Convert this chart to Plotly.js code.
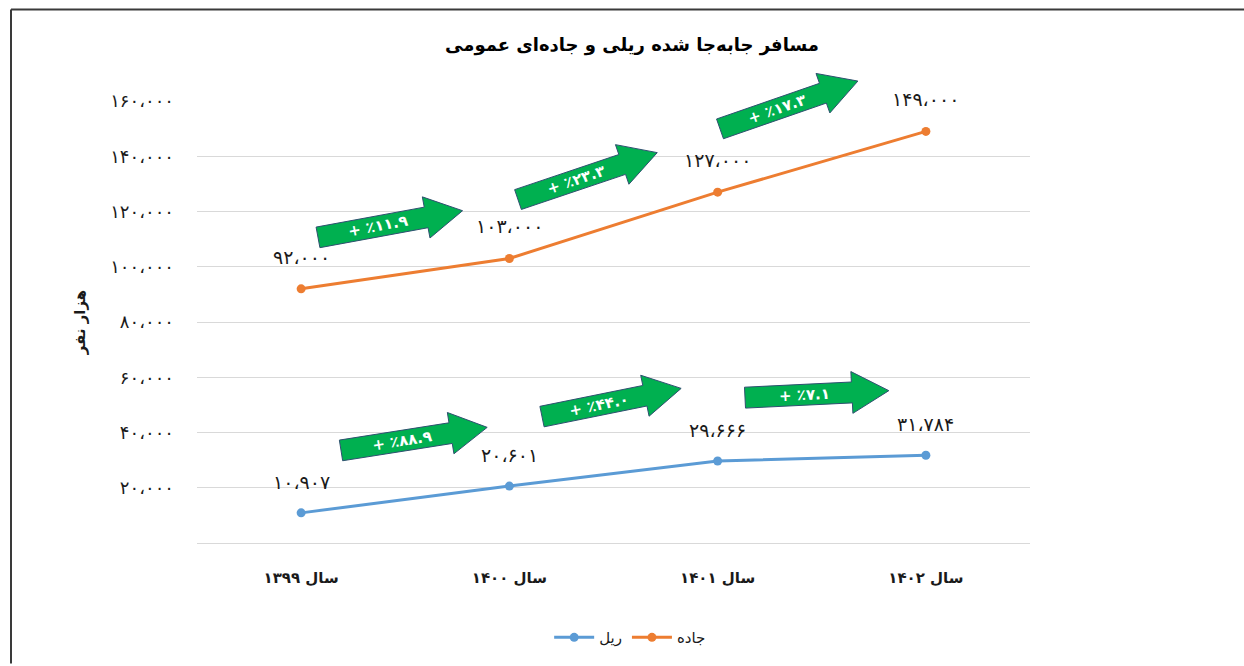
<!DOCTYPE html>
<html>
<head>
<meta charset="utf-8">
<script src="https://cdn.plot.ly/plotly-3.0.1.min.js"></script>
<style>
  html, body { margin: 0; padding: 0; background: #ffffff; }
  #chart { width: 1244px; height: 666px; }
</style>
</head>
<body>
<div id="chart"></div>
<script>
// ---- data ----
const categories = ['سال ۱۳۹۹', 'سال ۱۴۰۰', 'سال ۱۴۰۱', 'سال ۱۴۰۲'];
const railValues = [10907, 20601, 29666, 31784];
const roadValues = [92000, 103000, 127000, 149000];
const railLabels = ['۱۰،۹۰۷', '۲۰،۶۰۱', '۲۹،۶۶۶', '۳۱،۷۸۴'];
const roadLabels = ['۹۲،۰۰۰', '۱۰۳،۰۰۰', '۱۲۷،۰۰۰', '۱۴۹،۰۰۰'];
const roadGrowth = ['+ ٪۱۱.۹', '+ ٪۲۳.۳', '+ ٪۱۷.۳'];
const railGrowth = ['+ ٪۸۸.۹', '+ ٪۴۴.۰', '+ ٪۷.۱'];
const yTickVals = [20000, 40000, 60000, 80000, 100000, 120000, 140000, 160000];
const yTickText = ['۲۰،۰۰۰', '۴۰،۰۰۰', '۶۰،۰۰۰', '۸۰،۰۰۰', '۱۰۰،۰۰۰', '۱۲۰،۰۰۰', '۱۴۰،۰۰۰', '۱۶۰،۰۰۰'];
const seriesNames = ['ریل', 'جاده'];
const titleText = 'مسافر جابه‌جا شده ریلی و جاده‌ای عمومی';
const yTitleText = 'هزار نفر';

// ---- style / geometry ----
const W = 1244, H = 666;
const M = { l: 197, r: 214, t: 101, b: 121 };
const PW = W - M.l - M.r, PH = H - M.t - M.b;
const FONT = '"DejaVu Sans", "Noto Sans", sans-serif';
const BLUE = '#5B9BD5', ORANGE = '#ED7D31', GREEN = '#00B050';
const px2x = p => (p - M.l) / PW;
const py2y = p => (H - M.b - p) / PH;

// arrow placement (pixel start point, angle in degrees, length)
const roadArrowGeom = [[318, 238, 10.5, 147], [518, 200, 18.7, 147], [720, 129, 19.2, 146]];
const railArrowGeom = [[341, 452, 9.0, 148], [542, 418, 11.5, 142], [745, 399, 2.8, 144]];

const shapes = [];
const annotations = [];

function addArrow(g, label) {
  const [sx, sy, deg, L] = g;
  const t = deg * Math.PI / 180;
  const h1 = 10.5, h2 = 21, HL = 37;
  const loc = [[0, -h1], [L - HL, -h1], [L - HL, -h2], [L, 0], [L - HL, h2], [L - HL, h1], [0, h1]];
  const pts = loc.map(([u, v]) => {
    const X = sx + u * Math.cos(t) - v * Math.sin(t);
    const Y = sy - (u * Math.sin(t) + v * Math.cos(t));
    return [px2x(X), py2y(Y)];
  });
  const path = 'M ' + pts.map(p => p[0].toFixed(5) + ',' + p[1].toFixed(5)).join(' L ') + ' Z';
  shapes.push({ type: 'path', xref: 'paper', yref: 'paper', path: path,
    fillcolor: GREEN, line: { color: '#2F5070', width: 1 }, layer: 'above' });
  const uc = (L - HL) / 2 + 6;
  const cx = sx + uc * Math.cos(t), cy = sy - uc * Math.sin(t);
  annotations.push({ xref: 'paper', yref: 'paper', x: px2x(cx), y: py2y(cy),
    text: '<b>' + label + '</b>', showarrow: false, textangle: -deg,
    font: { family: FONT, size: 15, color: '#ffffff' }, xanchor: 'center', yanchor: 'middle' });
}
roadGrowth.forEach((g, i) => addArrow(roadArrowGeom[i], g));
railGrowth.forEach((g, i) => addArrow(railArrowGeom[i], g));

// data labels
categories.forEach((c, i) => {
  annotations.push({ x: c, y: roadValues[i], xref: 'x', yref: 'y', text: roadLabels[i],
    showarrow: false, yshift: 32, font: { family: FONT, size: 19, color: '#1a1a1a' } });
  annotations.push({ x: c, y: railValues[i], xref: 'x', yref: 'y', text: railLabels[i],
    showarrow: false, yshift: 31, font: { family: FONT, size: 19, color: '#1a1a1a' } });
});

// frame (top & left)
shapes.push({ type: 'line', xref: 'paper', yref: 'paper', x0: px2x(11), x1: px2x(1244), y0: py2y(9), y1: py2y(9),
  line: { color: '#3a3a3a', width: 2 } });
shapes.push({ type: 'line', xref: 'paper', yref: 'paper', x0: px2x(11), x1: px2x(11), y0: py2y(9), y1: py2y(666),
  line: { color: '#3a3a3a', width: 2 } });

const traces = [
  { x: categories, y: railValues, name: seriesNames[0], type: 'scatter', mode: 'lines+markers',
    line: { color: BLUE, width: 3 }, marker: { color: BLUE, size: 9 }, hoverinfo: 'skip' },
  { x: categories, y: roadValues, name: seriesNames[1], type: 'scatter', mode: 'lines+markers',
    line: { color: ORANGE, width: 3 }, marker: { color: ORANGE, size: 9 }, hoverinfo: 'skip' }
];

const layout = {
  width: W, height: H,
  margin: M,
  paper_bgcolor: '#ffffff', plot_bgcolor: '#ffffff',
  font: { family: FONT, color: '#1a1a1a' },
  title: { text: '<b>' + titleText + '</b>', x: 0.508, xanchor: 'center', y: 1 - 45 / H, yanchor: 'middle',
    font: { family: FONT, size: 18, color: '#000000' } },
  xaxis: {
    type: 'category', range: [-0.5, 3.5], tickvals: categories,
    ticktext: categories.map(c => '\u202B' + c + '\u202C'),
    showgrid: false, zeroline: false, showline: false, ticks: '',
    ticklabelstandoff: 24,
    tickfont: { family: FONT, size: 15, color: '#1a1a1a', weight: 'bold' }
  },
  yaxis: {
    range: [0, 160000], tickvals: yTickVals, ticktext: yTickText,
    showgrid: true, gridcolor: '#d9d9d9', gridwidth: 1,
    zeroline: true, zerolinecolor: '#d9d9d9', zerolinewidth: 1,
    showline: false, ticks: '', ticklabelstandoff: 22,
    tickfont: { family: FONT, size: 18, color: '#1a1a1a' },
    title: { text: '<b>' + yTitleText + '</b>', standoff: 20, font: { family: FONT, size: 15, color: '#1a1a1a' } },
    automargin: false
  },
  showlegend: true,
  legend: { orientation: 'h', x: 0.52, xanchor: 'center', y: py2y(640), yanchor: 'middle',
    font: { family: FONT, size: 15, color: '#1a1a1a' }, itemwidth: 40 },
  shapes: shapes,
  annotations: annotations
};

Plotly.newPlot('chart', traces, layout, { displayModeBar: false, staticPlot: true });
</script>
</body>
</html>
